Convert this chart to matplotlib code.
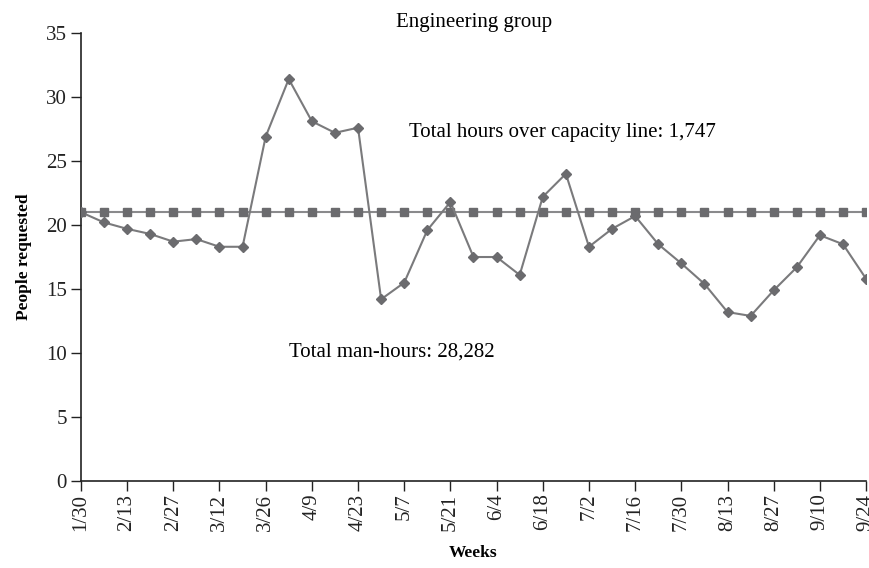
import numpy as np
import matplotlib
matplotlib.use("Agg")
import matplotlib.pyplot as plt

plt.rcParams['font.family'] = ['Liberation Serif', 'DejaVu Serif']

# weekly head-count requests for the engineering group
weeks = ['1/30', '2/6', '2/13', '2/20', '2/27', '3/5', '3/12', '3/19', '3/26', '4/2',
         '4/9', '4/16', '4/23', '4/30', '5/7', '5/14', '5/21', '5/28', '6/4', '6/11',
         '6/18', '6/25', '7/2', '7/9', '7/16', '7/23', '7/30', '8/6', '8/13', '8/20',
         '8/27', '9/3', '9/10', '9/17', '9/24']
requested = [21.0, 20.2, 19.7, 19.3, 18.7, 18.9, 18.3, 18.3, 26.9, 31.4,
             28.1, 27.2, 27.6, 14.2, 15.5, 19.6, 21.8, 17.5, 17.5, 16.1,
             22.2, 24.0, 18.3, 19.7, 20.7, 18.5, 17.0, 15.4, 13.2, 12.9,
             14.9, 16.7, 19.2, 18.5, 15.8]
capacity = [21] * len(weeks)

title = "Engineering group"
over_note = "Total hours over capacity line: 1,747"
total_note = "Total man-hours: 28,282"

fig = plt.figure(figsize=(8.7, 5.68), dpi=100)
ax = fig.add_axes([0.093, 0.153, 0.9955 - 0.093, 0.789])

x = np.arange(len(weeks))
ax.plot(x, capacity, color='#8a8a8c', lw=1.5, marker='s', ms=6,
        mfc='#6b6b6e', mec='#6b6b6e', zorder=2)
ax.plot(x, requested, color='#7a7a7c', lw=1.5, marker='D', ms=5.5,
        mfc='#6b6b6e', mec='#6b6b6e', zorder=3)

ax.set_xlim(0, len(weeks) - 1)
ax.set_ylim(0, 35)
ax.set_yticks(range(0, 36, 5))
ax.set_xticks(x[::2])
ax.set_xticklabels(weeks[::2], rotation=90)
ax.tick_params(direction='out', length=7, width=1, labelsize=15, colors='#222222')
ax.tick_params(axis='x', pad=2)
ax.tick_params(axis='y', pad=3)
ax.spines['top'].set_visible(False)
ax.spines['right'].set_visible(False)
for s in ('left', 'bottom'):
    ax.spines[s].set_linewidth(1.2)
    ax.spines[s].set_color('#222222')

ax.set_ylabel("People requested", fontsize=12.5, fontweight='bold', labelpad=10)
ax.set_xlabel("Weeks", fontsize=12.5, fontweight='bold', labelpad=10)

fig.text(0.545, 0.96, title, ha='center', va='center', fontsize=15)
ax.text(14.2, 27.2, over_note, ha='left', va='center', fontsize=15)
ax.text(9.0, 10.1, total_note, ha='left', va='center', fontsize=15)

fig.savefig("out.png", dpi=100)
